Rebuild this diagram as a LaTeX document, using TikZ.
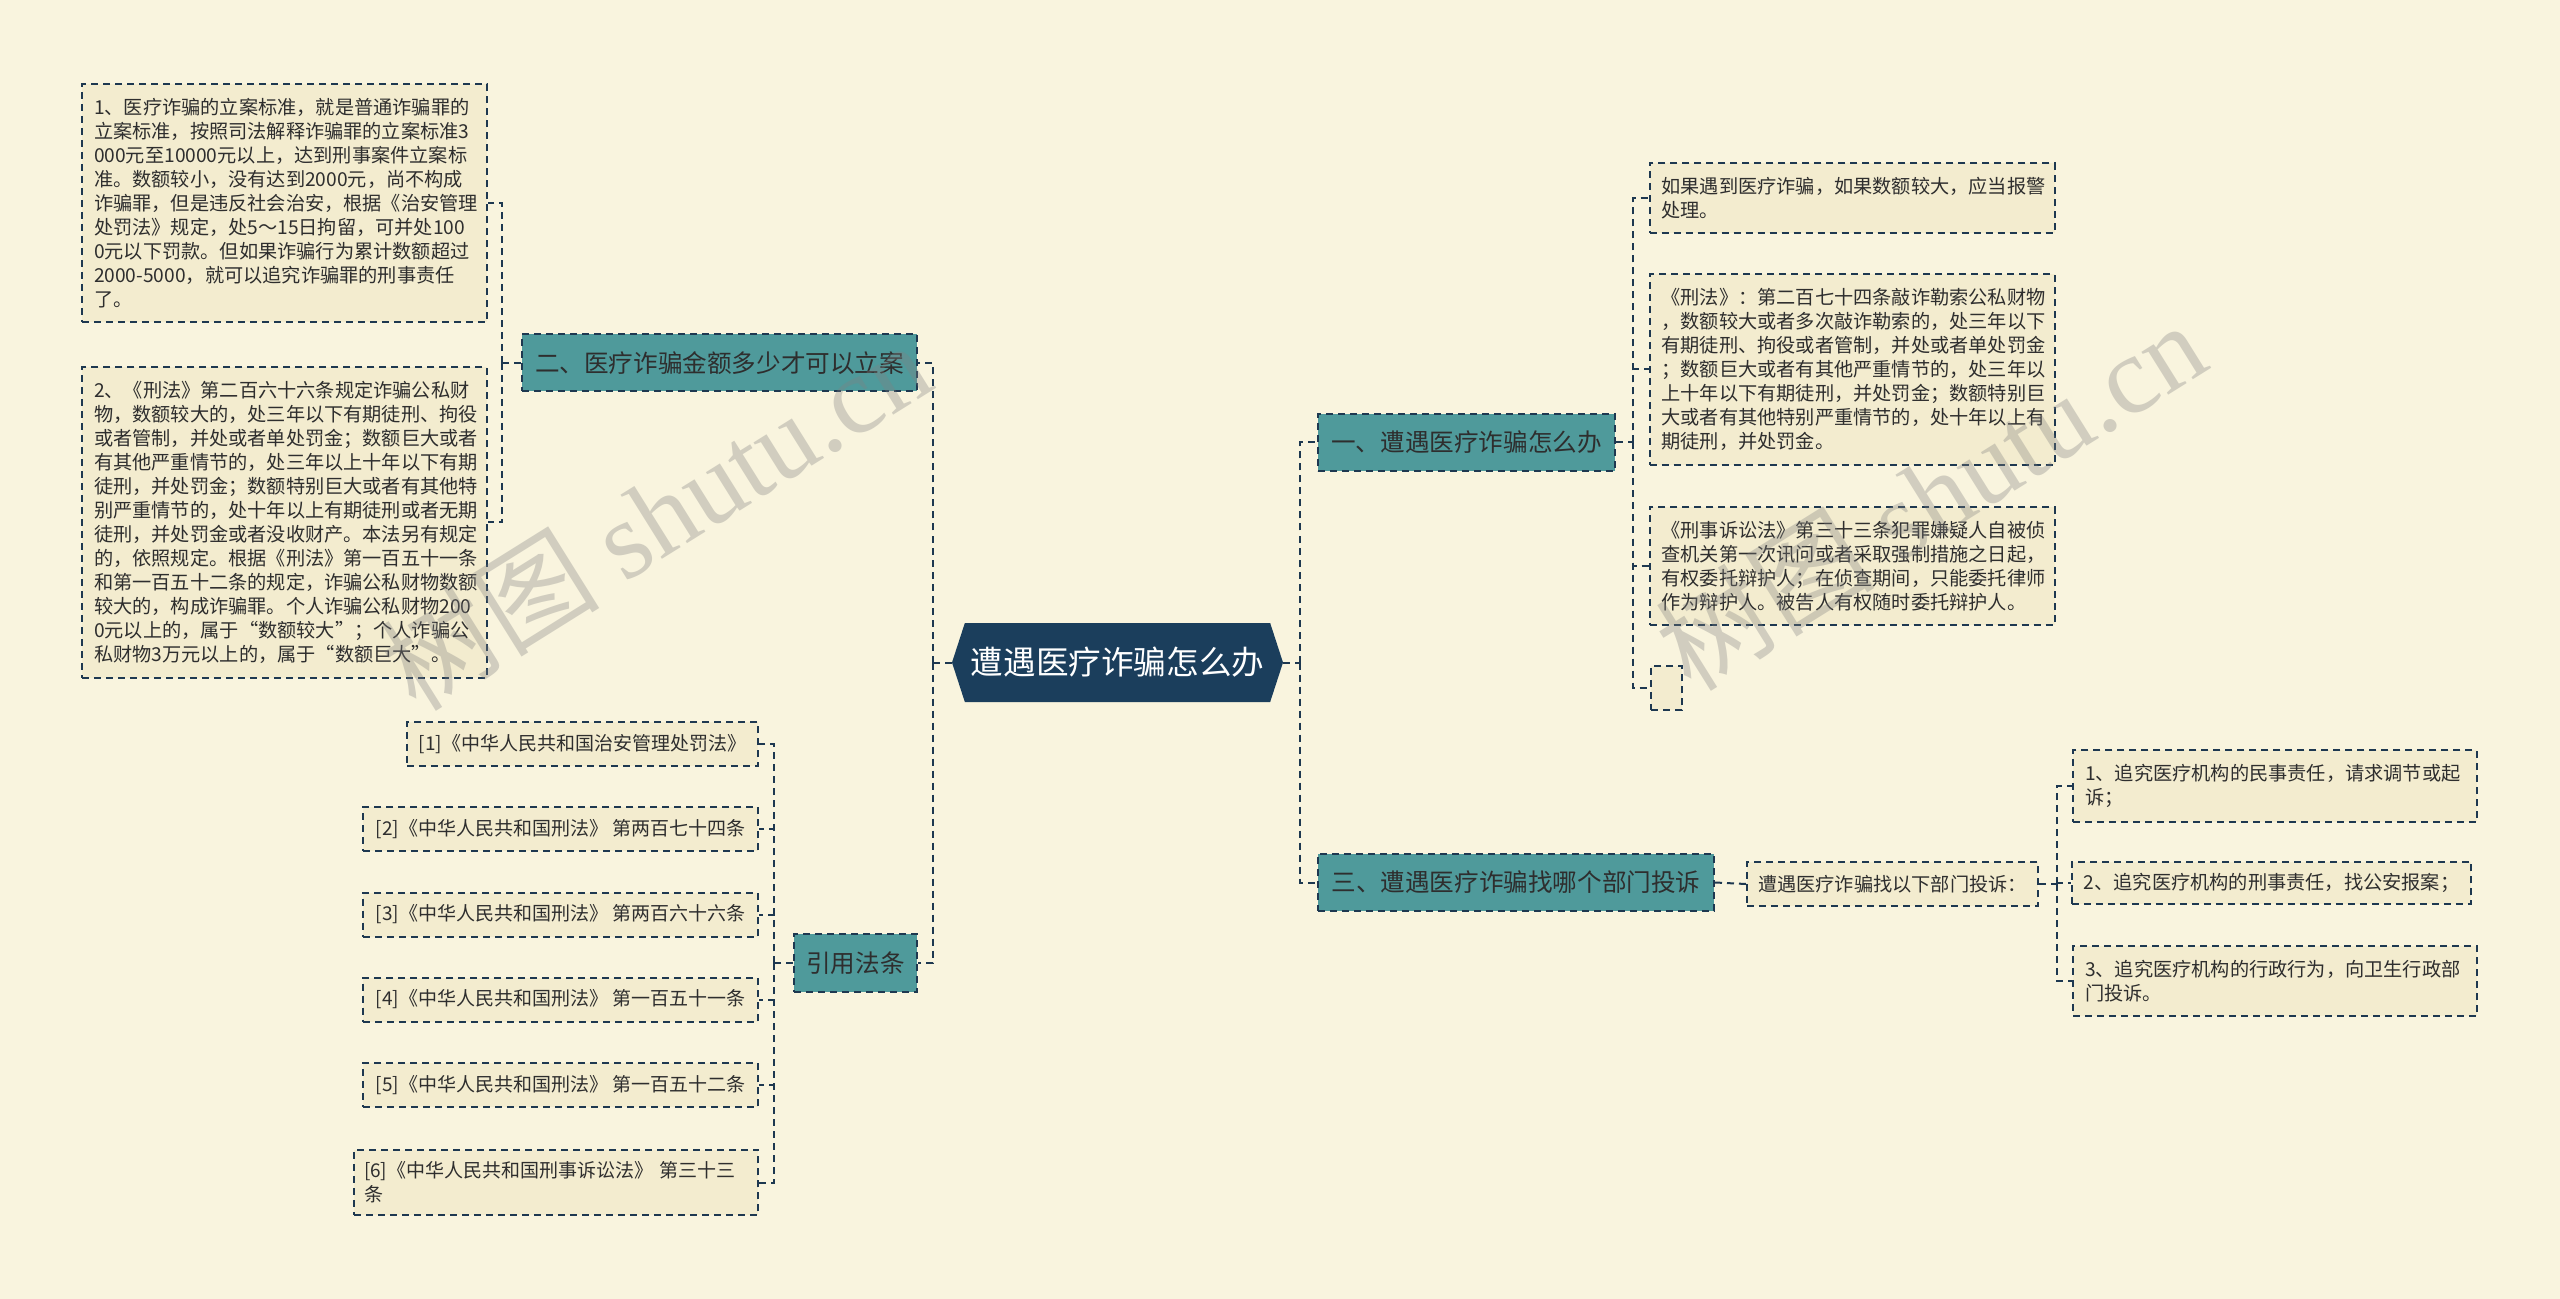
\documentclass[tikz,border=0pt]{standalone}
\usepackage{fontspec}
\setmainfont{Noto Sans CJK SC}
\newfontfamily\wmserif{Liberation Serif}
\usetikzlibrary{shapes.symbols}

\definecolor{bgcol}{HTML}{F9F4DE}
\definecolor{leafcol}{HTML}{F3ECCF}
\definecolor{tealcol}{HTML}{4F9A9B}
\definecolor{rootcol}{HTML}{1B3E5C}
\definecolor{linecol}{HTML}{1E3850}
\definecolor{textcol}{HTML}{2E2E2E}

\tikzset{
  link/.style={draw=linecol, line width=1pt, dash pattern=on 3.5pt off 2.5pt},
  box/.style={draw=linecol, line width=1pt, dash pattern=on 3.5pt off 2.5pt, text=textcol},
  leaf/.style={box, fill=leafcol, font=\fontsize{9.6}{12}\selectfont, align=left, inner xsep=6pt, inner ysep=7pt},
  cite/.style={box, fill=leafcol, font=\fontsize{9.5}{12}\selectfont, minimum height=22pt, inner xsep=5pt},
  branch/.style={box, fill=tealcol, font=\fontsize{12.3}{14}\selectfont, minimum height=28.5pt, inner xsep=6pt},
  rootbox/.style={shape=signal, signal to=west and east, signal pointer angle=144, fill=rootcol, text=white,
    font=\fontsize{16.3}{18}\selectfont, minimum width=165.5pt, minimum height=39.5pt, inner xsep=2pt},
  mark wm/.style={text=gray, opacity=0.33, rotate=32, font=\fontsize{55}{55}\selectfont}
}

\begin{document}
\begin{tikzpicture}[x=0.5pt, y=-0.5pt]
    % Background and page size
    \fill[bgcol] (0,0) rectangle (2560,1299);
    \useasboundingbox (0,0) rectangle (2560,1299);

    % Root
    \node[rootbox] (root) at (1117.5,662.5) {遭遇医疗诈骗怎么办};

    % Main branches
    \node[branch, minimum width=197.5pt] (b2) at (719.5,363) {二、医疗诈骗金额多少才可以立案};
    \node[branch, minimum width=61.5pt, minimum height=29pt] (law) at (855.5,963) {引用法条};
    \node[branch, minimum width=148.5pt] (b1) at (1466.5,442.5) {一、遭遇医疗诈骗怎么办};
    \node[branch, minimum width=198pt] (b3) at (1516,882.5) {三、遭遇医疗诈骗找哪个部门投诉};

    % Branch two: leaves
    \node[leaf, text width=190.5pt] (b2a) at (284.5,203) {1、医疗诈骗的立案标准，就是普通诈骗罪的\\立案标准，按照司法解释诈骗罪的立案标准3\\000元至10000元以上，达到刑事案件立案标\\准。数额较小，没有达到2000元，尚不构成\\诈骗罪，但是违反社会治安，根据《治安管理\\处罚法》规定，处5～15日拘留，可并处100\\0元以下罚款。但如果诈骗行为累计数额超过\\2000-5000，就可以追究诈骗罪的刑事责任\\了。};
    \node[leaf, text width=190.5pt] (b2b) at (284.5,522.5) {2、《刑法》第二百六十六条规定诈骗公私财\\物，数额较大的，处三年以下有期徒刑、拘役\\或者管制，并处或者单处罚金；数额巨大或者\\有其他严重情节的，处三年以上十年以下有期\\徒刑，并处罚金；数额特别巨大或者有其他特\\别严重情节的，处十年以上有期徒刑或者无期\\徒刑，并处罚金或者没收财产。本法另有规定\\的，依照规定。根据《刑法》第一百五十一条\\和第一百五十二条的规定，诈骗公私财物数额\\较大的，构成诈骗罪。个人诈骗公私财物200\\0元以上的，属于“数额较大”；个人诈骗公\\私财物3万元以上的，属于“数额巨大”。};

    % Cited articles
    \node[cite, minimum width=175.5pt] (c1) at (582.5,744) {[1]《中华人民共和国治安管理处罚法》};
    \node[cite, minimum width=197.5pt] (c2) at (560.5,829) {[2]《中华人民共和国刑法》 第两百七十四条};
    \node[cite, minimum width=197.5pt] (c3) at (560.5,914.5) {[3]《中华人民共和国刑法》 第两百六十六条};
    \node[cite, minimum width=197.5pt] (c4) at (560.5,999.5) {[4]《中华人民共和国刑法》 第一百五十一条};
    \node[cite, minimum width=197.5pt] (c5) at (560.5,1085) {[5]《中华人民共和国刑法》 第一百五十二条};
    \node[cite, text width=192pt, align=left, inner ysep=6pt] (c6) at (556,1182.5) {[6]《中华人民共和国刑事诉讼法》 第三十三\\条};

    % Branch one: leaves
    \node[leaf, text width=190.5pt] (b1a) at (1852,198) {如果遇到医疗诈骗，如果数额较大，应当报警\\处理。};
    \node[leaf, text width=190.5pt] (b1b) at (1852,369.5) {《刑法》：第二百七十四条敲诈勒索公私财物\\，数额较大或者多次敲诈勒索的，处三年以下\\有期徒刑、拘役或者管制，并处或者单处罚金\\；数额巨大或者有其他严重情节的，处三年以\\上十年以下有期徒刑，并处罚金；数额特别巨\\大或者有其他特别严重情节的，处十年以上有\\期徒刑，并处罚金。};
    \node[leaf, text width=190.5pt] (b1c) at (1852,566) {《刑事诉讼法》第三十三条犯罪嫌疑人自被侦\\查机关第一次讯问或者采取强制措施之日起，\\有权委托辩护人；在侦查期间，只能委托律师\\作为辩护人。被告人有权随时委托辩护人。};
    \node[leaf, minimum width=15.5pt, minimum height=22pt, inner sep=0pt] (b1d) at (1666.5,688) {};

    % Branch three: leaves
    \node[leaf, minimum width=145.5pt, minimum height=22pt, inner xsep=4pt, inner ysep=4pt] (b3a) at (1892.5,884) {遭遇医疗诈骗找以下部门投诉：};
    \node[leaf, text width=190pt] (d1) at (2275,786) {1、追究医疗机构的民事责任，请求调节或起\\诉；};
    \node[leaf, minimum width=198.5pt, minimum height=21pt, inner ysep=4pt] (d2) at (2271.5,883) {2、追究医疗机构的刑事责任，找公安报案；};
    \node[leaf, text width=190pt] (d3) at (2275,981) {3、追究医疗机构的行政行为，向卫生行政部\\门投诉。};

    % Connectors
    \draw[link] (root.west) -- ++(-19,0) coordinate (lt);
    \draw[link] (lt) |- (b2.east);
    \draw[link] (lt) |- (law.east);
    \draw[link] (root.east) -- ++(17,0) coordinate (rt);
    \draw[link] (rt) |- (b1.west);
    \draw[link] (rt) |- (b3.west);

    \draw[link] (b2.west) -- ++(-19,0) coordinate (j2);
    \foreach \n in {b2a,b2b} \draw[link] (j2) |- (\n.east);

    \draw[link] (law.west) -- ++(-19,0) coordinate (jl);
    \foreach \n in {c1,c2,c3,c4,c5,c6} \draw[link] (jl) |- (\n.east);

    \draw[link] (b1.east) -- ++(17,0) coordinate (j1);
    \foreach \n in {b1a,b1b,b1c,b1d} \draw[link] (j1) |- (\n.west);

    \draw[link] (b3.east) -- (b3a.west);
    \draw[link] (b3a.east) -- ++(18,0) coordinate (j3);
    \foreach \n in {d1,d2,d3} \draw[link] (j3) |- (\n.west);

    % Watermarks
    \node[mark wm] (wm1) at (655,515) {树图 {\wmserif shutu.cn}};
    \node[mark wm] (wm2) at (1930,495) {树图 {\wmserif shutu.cn}};
\end{tikzpicture}
\end{document}
